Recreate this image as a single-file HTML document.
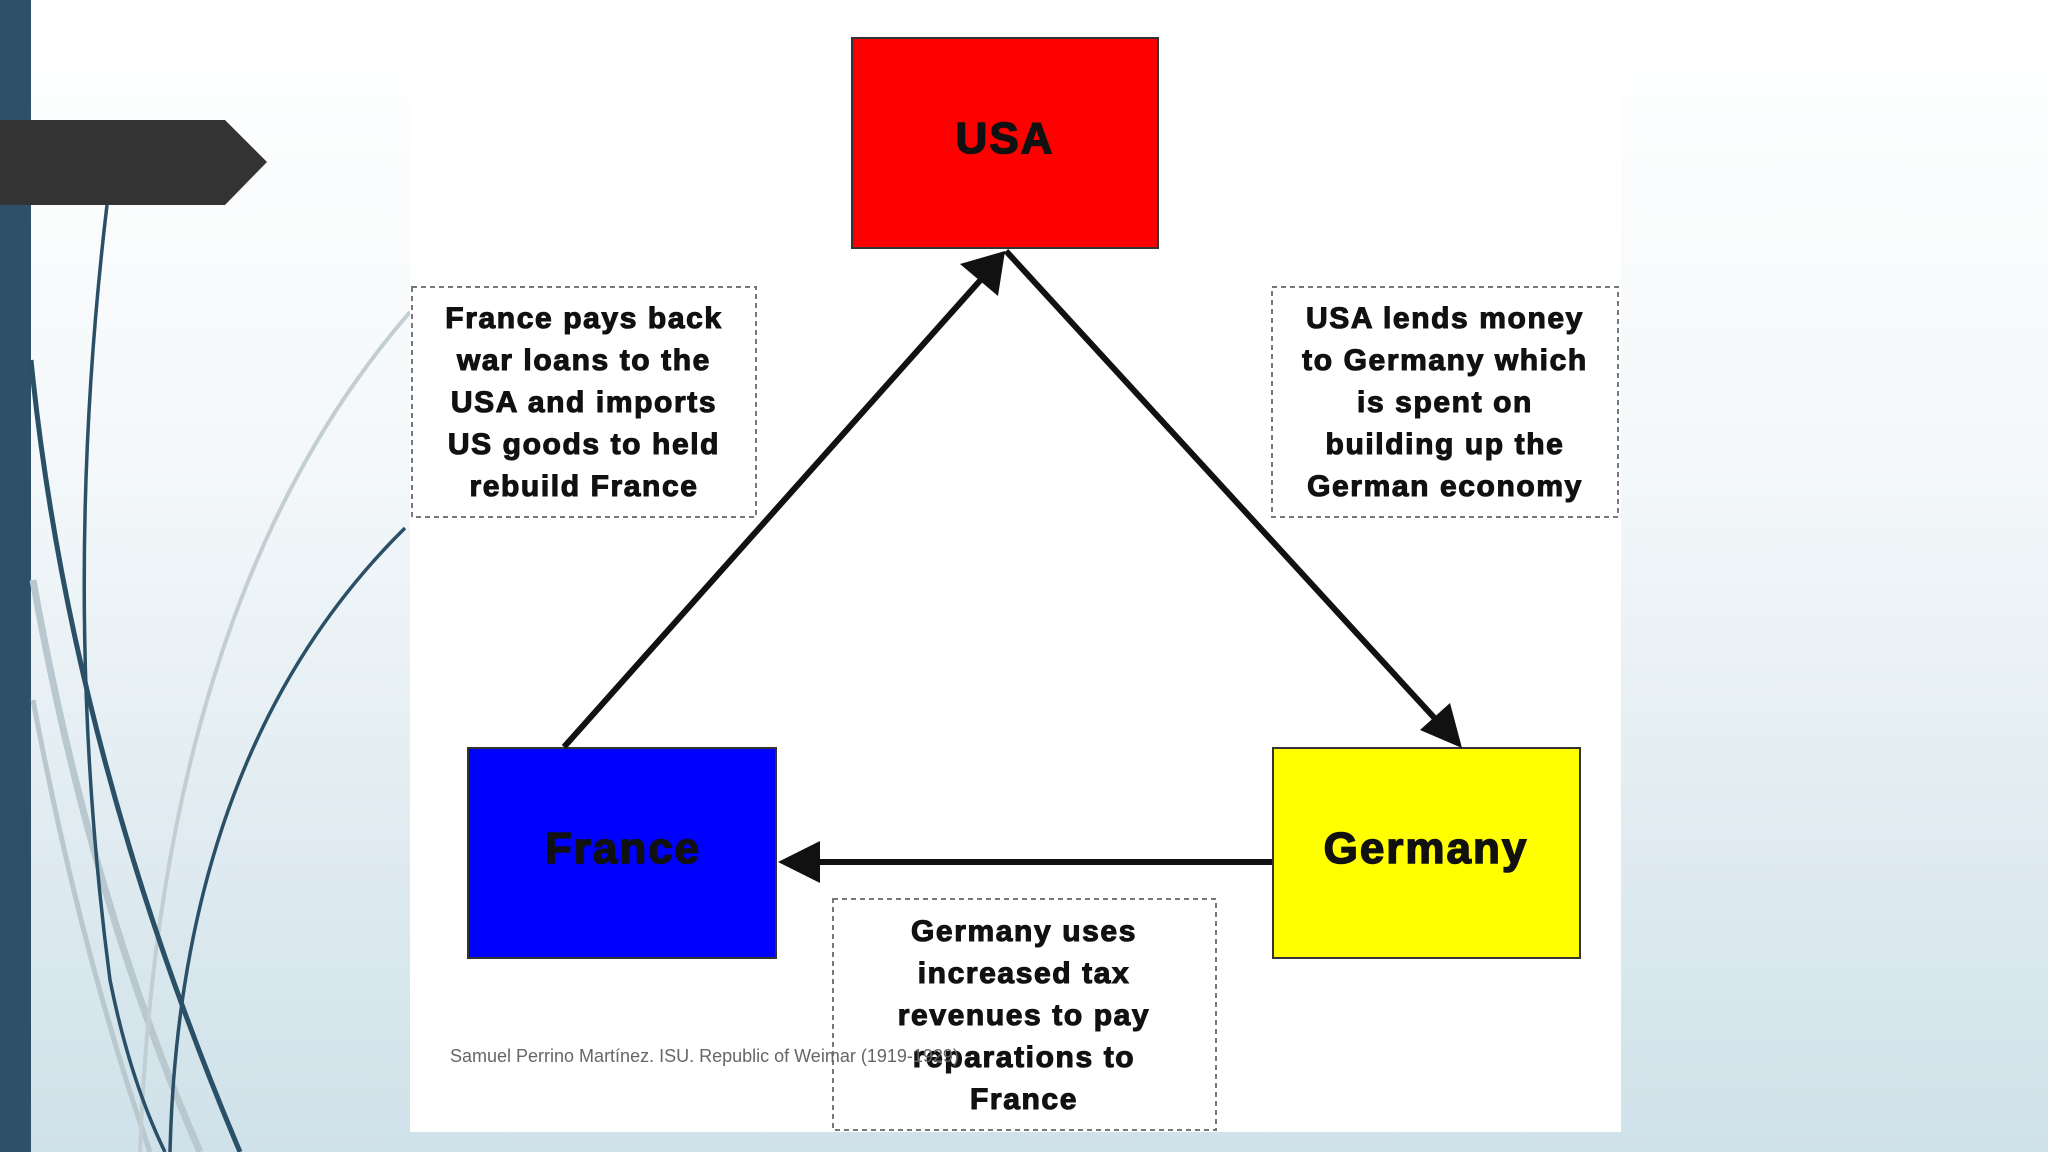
<!DOCTYPE html>
<html><head><meta charset="utf-8"><style>
html,body{margin:0;padding:0;width:2048px;height:1152px;overflow:hidden}
body{background:linear-gradient(#ffffff 0%,#f4f8fa 40%,#cfe1e9 100%);font-family:"Liberation Sans",sans-serif}
</style></head><body>
<svg width="2048" height="1152" viewBox="0 0 2048 1152" style="position:absolute;left:0;top:0">
<rect x="0" y="0" width="31" height="1152" fill="#2e5069"/>
<path d="M33,580 Q90,900 200,1152" stroke="#b9c8cf" stroke-width="7" fill="none"/>
<path d="M33,700 Q80,950 150,1152" stroke="#b9c8cf" stroke-width="5" fill="none"/>
<path d="M410,312 Q160,600 140,1152" stroke="#c3ced3" stroke-width="4" fill="none"/>
<path d="M107,205 Q60,600 110,980 Q130,1080 165,1152" stroke="#2a5068" stroke-width="3.5" fill="none"/>
<path d="M31,360 Q70,750 240,1152" stroke="#2a5068" stroke-width="5" fill="none"/>
<path d="M405,528 Q180,750 170,1152" stroke="#2a5068" stroke-width="3.5" fill="none"/>
<path d="M0,120 L225,120 L267,162 L225,205 L0,205 Z" fill="#333333"/>
<rect x="410" y="0" width="1211" height="1132" fill="#ffffff"/>
<rect x="852" y="38" width="306" height="210" fill="#ff0000" stroke="#333" stroke-width="2"/>
<rect x="468" y="748" width="308" height="210" fill="#0000ff" stroke="#333" stroke-width="2"/>
<rect x="1273" y="748" width="307" height="210" fill="#ffff00" stroke="#333" stroke-width="2"/>
<g font-weight="bold" fill="#111" stroke="#111" stroke-width="1.5" text-anchor="middle" font-size="44" letter-spacing="2">
<text x="1005" y="153">USA</text>
<text x="623" y="863">France</text>
<text x="1426" y="863">Germany</text>
</g>
<g stroke="#111" stroke-width="6">
<line x1="564" y1="747" x2="985" y2="275"/>
<line x1="1006" y1="251" x2="1440" y2="724"/>
<line x1="1272" y1="862" x2="805" y2="862"/>
</g>
<polygon points="1005,251 998,296 960,264" fill="#111"/>
<polygon points="1462,748 1420,730 1450,703" fill="#111"/>
<polygon points="778,862 820,841 820,883" fill="#111"/>
<g fill="none" stroke="#777" stroke-width="2" stroke-dasharray="5,4">
<rect x="412" y="287" width="344" height="230"/>
<rect x="1272" y="287" width="346" height="230"/>
<rect x="833" y="899" width="383" height="231"/>
</g>
<g font-size="30" font-weight="bold" fill="#111" stroke="#111" stroke-width="1.1" letter-spacing="1.6" text-anchor="middle">
<text x="584" y="328">France pays back</text>
<text x="584" y="370">war loans to the</text>
<text x="584" y="412">USA and imports</text>
<text x="584" y="454">US goods to held</text>
<text x="584" y="496">rebuild France</text>
<text x="1445" y="328">USA lends money</text>
<text x="1445" y="370">to Germany which</text>
<text x="1445" y="412">is spent on</text>
<text x="1445" y="454">building up the</text>
<text x="1445" y="496">German economy</text>
<text x="1024" y="941">Germany uses</text>
<text x="1024" y="983">increased tax</text>
<text x="1024" y="1025">revenues to pay</text>
<text x="1024" y="1067">reparations to</text>
<text x="1024" y="1109">France</text>
</g>
<text x="450" y="1062" font-size="18" fill="#666">Samuel Perrino Martínez. ISU. Republic of Weimar (1919-1929)</text>
</svg>
</body></html>
